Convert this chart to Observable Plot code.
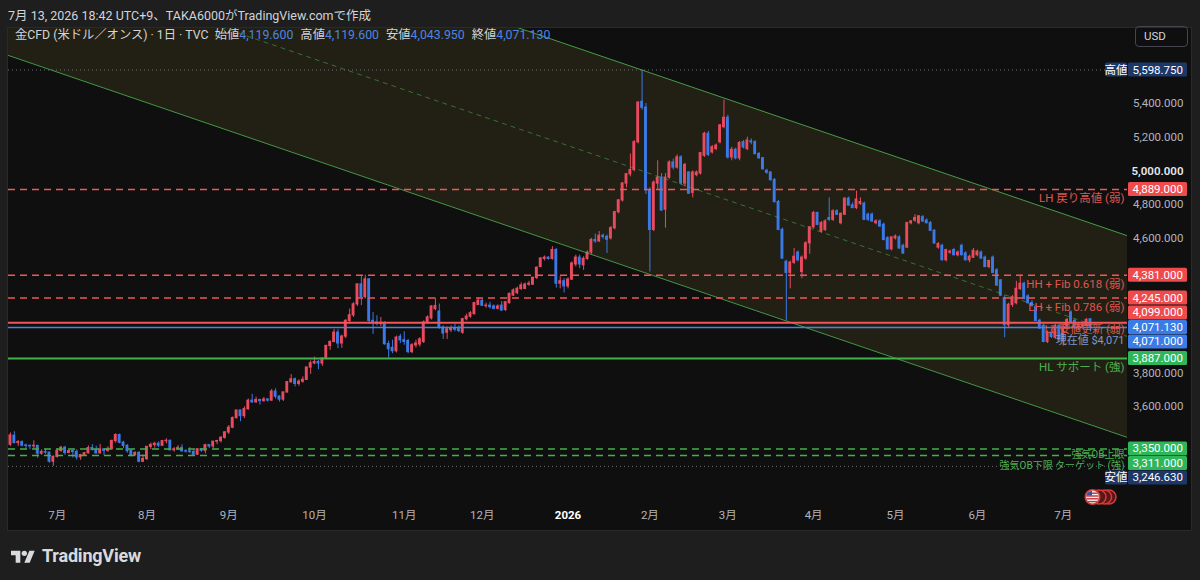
<!DOCTYPE html>
<html><head><meta charset="utf-8">
<script src="https://cdn.jsdelivr.net/npm/d3@7"></script>
<script src="https://cdn.jsdelivr.net/npm/@observablehq/plot@0.6"></script>
<style>
html,body{margin:0;padding:0;background:#1e1e1e;}
#wrap{position:relative;width:1200px;height:580px;overflow:hidden;background:#1e1e1e;font-family:Roboto,"Noto Sans CJK JP",sans-serif;}
#hdr{position:absolute;left:8px;top:5px;font-size:12.5px;color:#d1d4dc;white-space:nowrap;}
#panel{position:absolute;left:8px;top:28px;width:1183px;height:502px;background:#0f0f0f;box-shadow:0 0 0 1px #2a2a2a;}
#legend{position:absolute;left:15px;top:28px;font-size:12.3px;line-height:14px;color:#d1d4dc;white-space:nowrap;}
#legend .v{color:#4c85e6;margin-right:7px;}
#legend .k{color:#d1d4dc;}
#usd{position:absolute;left:1135px;top:26px;width:51px;height:19px;border:1px solid #434651;border-radius:4px;color:#d1d4dc;font-size:11.5px;line-height:19px;}
#usd span{margin-left:8px;}
#logo{position:absolute;left:10px;top:545px;display:flex;align-items:center;color:#d9dadd;font-weight:700;font-size:18px;font-family:Roboto,"Open Sans",sans-serif;letter-spacing:-0.2px;}
#flag{position:absolute;left:1082px;top:486px;}
</style></head>
<body><div id="wrap">
<div id="hdr">7月 13, 2026 18:42 UTC+9、TAKA6000がTradingView.comで作成</div>
<div id="panel"></div>
<div id="legend"></div>
<div id="usd"><span>USD</span></div>
<svg id="flag" width="40" height="22" viewBox="0 0 40 22">
  <defs><clipPath id="fc"><circle cx="10.5" cy="11" r="6.3"/></clipPath></defs>
  <circle cx="27" cy="11" r="7" fill="#5a1717" stroke="#d63a3a" stroke-width="1.5"/>
  <circle cx="22.5" cy="11" r="7" fill="#5a1717" stroke="#d63a3a" stroke-width="1.5"/>
  <circle cx="17" cy="11" r="7" fill="#5a1717" stroke="#d63a3a" stroke-width="1.5"/>
  <circle cx="10.5" cy="11" r="7.2" fill="#f2f2f2" stroke="#d63a3a" stroke-width="1.6"/>
  <g clip-path="url(#fc)">
    <rect x="3" y="6.5" width="15" height="1.4" fill="#c8323a"/>
    <rect x="3" y="9.3" width="15" height="1.4" fill="#c8323a"/>
    <rect x="3" y="12.1" width="15" height="1.4" fill="#c8323a"/>
    <rect x="3" y="14.9" width="15" height="1.4" fill="#c8323a"/>
    <rect x="3" y="3" width="7" height="6.5" fill="#3b4f9a"/>
  </g>
</svg>
<div id="logo"><svg width="26" height="16" viewBox="0 0 36 24" style="margin-right:6px"><path d="M14 22H7V11H0V4h14v18z" fill="#d9dadd"/><circle cx="20" cy="8" r="4" fill="#d9dadd"/><path d="M28 22h-8l7.5-18h8L28 22z" fill="#d9dadd"/></svg>TradingView</div>
</div>
<script>
// ---------- data (daily candles) ----------
const firstDay = "2025-06-13", lastDay = "2026-07-13";
const holidays = ["2025-12-25","2026-01-01","2026-04-03","2026-07-03"];

const opens = [
3375,3428,3385,3390,3370,3368,3366,3368,3322,3332,
3328,3274,3303,3338,3357,3326,3337,3332,3300,3313,
3324,3355,3343,3324,3347,3339,3350,3397,3432,3387,
3368,3337,3314,3326,3274,3290,3362,3373,3380,3369,
3396,3398,3342,3348,3356,3336,3335,3332,3316,3348,
3339,3372,3365,3393,3397,3416,3448,3476,3533,3578,
3545,3586,3636,3627,3640,3634,3643,3637,3690,3660,
3643,3685,3746,3763,3736,3749,3760,3833,3858,3866,
3857,3886,3961,3985,4040,3976,4017,4110,4143,4208,
4326,4251,4356,4110,4100,4092,4098,3972,3950,3930,
4015,3995,3990,3925,3965,3970,3985,4100,4125,4180,
4165,4070,4040,4055,4065,4060,4040,4120,4135,4150,
4205,4228,4198,4200,4195,4182,4200,4175,4215,4260,
4275,4300,4300,4325,4325,4365,4430,4478,4485,4478,
4530,4331,4345,4315,4355,4445,4485,4440,4478,4515,
4590,4582,4615,4608,4600,4660,4755,4825,4925,4980,
5005,5170,5410,5375,4885,4650,4925,4960,4770,4960,
5050,5020,5080,4925,4990,4870,4975,4985,5090,5220,
5110,5130,5170,5260,5315,5080,5125,5075,5170,5130,
5175,5170,5100,5075,5000,4990,4945,
4815,4650,4460,4395,4455,4515,4400,4480,4570,4665,
4750,4640,4650,4720,4710,4760,4690,4740,4835,4795,
4780,4805,4805,4740,4740,4690,4700,4680,4600,4535,
4600,4605,4555,4545,4690,4705,4690,4725,4705,4690,
4645,4545,4555,4470,4515,4530,4500,4555,4510,4470,4485,
4500,4515,4485,4430,4485,4410,4350,4245,4085,4205,
4215,4300,4330,4255,4215,4190,4110,4080,3985,4040,4010,
4080,3995,4075,4160,4110,4070,4075,4080,4119.6];

const highs = [
3445,3452,3400,3398,3378,3372,3398,3370,3345,3350,
3330,3308,3350,3365,3365,3342,3345,3345,3318,3330,
3368,3375,3366,3377,3352,3362,3402,3440,3438,3395,
3375,3345,3333,3334,3315,3363,3385,3390,3392,3400,
3410,3402,3358,3370,3375,3346,3358,3345,3350,3352,
3378,3376,3394,3400,3423,3453,3489,3540,3578,3580,
3600,3646,3674,3658,3645,3655,3648,3703,3707,3665,
3688,3750,3791,3770,3760,3778,3835,3872,3895,3875,
3890,3965,3990,4060,4058,4025,4117,4180,4218,4330,
4380,4381,4360,4160,4140,4130,4105,3990,3995,4020,
4030,4045,4000,3975,3995,4010,4110,4140,4200,4245,
4210,4080,4075,4080,4090,4080,4125,4150,4165,4220,
4245,4240,4215,4220,4205,4205,4225,4225,4275,4300,
4310,4335,4335,4345,4370,4430,4485,4495,4490,4550,
4540,4372,4360,4365,4460,4500,4500,4490,4525,4600,
4625,4640,4625,4620,4670,4760,4830,4930,4985,5100,
5180,5410,5598.75,5400,4900,4940,5060,4985,4985,5060,
5070,5095,5090,5045,4995,5000,5000,5110,5230,5235,
5150,5160,5275,5420,5330,5140,5135,5175,5180,5200,
5190,5180,5110,5080,5010,4995,4955,
4825,4660,4470,4465,4540,4525,4495,4580,4670,4760,
4755,4700,4710,4840,4770,4770,4750,4840,4845,4810,
4880,4840,4815,4750,4750,4710,4710,4690,4610,4610,
4620,4615,4565,4695,4705,4740,4735,4735,4715,4700,
4650,4575,4565,4535,4530,4540,4525,4565,4520,4500,4540,
4530,4525,4495,4470,4495,4420,4355,4260,4215,4260,
4345,4381,4340,4265,4230,4200,4120,4090,4050,4060,4090,
4090,4085,4125,4170,4120,4090,4095,4125,4119.6];

const lows = [
3365,3380,3365,3362,3350,3345,3350,3295,3312,3318,
3265,3246.63,3295,3330,3312,3322,3296,3283,3282,3305,
3320,3340,3320,3320,3310,3330,3340,3385,3380,3352,
3325,3302,3308,3268,3270,3281,3346,3355,3358,3366,
3380,3340,3331,3345,3330,3325,3322,3314,3311,3330,
3321,3352,3352,3375,3385,3408,3436,3470,3528,3512,
3530,3580,3620,3620,3610,3627,3628,3632,3646,3628,
3632,3682,3740,3718,3722,3740,3756,3792,3850,3820,
3840,3885,3935,3980,3945,3947,4005,4090,4130,4195,
4200,4240,4090,4030,4080,4075,3965,3887,3915,3920,
3975,3965,3915,3915,3950,3955,3975,4090,4115,4170,
4060,4000,4000,4040,4045,4040,4030,4110,4125,4145,
4200,4195,4185,4180,4175,4175,4165,4165,4210,4255,
4265,4290,4295,4315,4320,4355,4425,4465,4470,4470,
4305,4300,4275,4300,4350,4430,4420,4410,4470,4505,
4570,4575,4595,4510,4590,4650,4745,4815,4900,4965,
4995,5160,5360,4860,4400,4640,4890,4760,4660,4950,
5005,5010,4915,4905,4860,4840,4965,4975,5080,5085,
5100,5120,5160,5250,5070,5060,5065,5060,5130,5120,
5155,5095,5070,5005,4980,4940,4810,
4645,4475,4110,4300,4445,4460,4360,4470,4505,4655,
4675,4630,4640,4700,4700,4735,4680,4735,4790,4775,
4770,4795,4705,4700,4695,4680,4665,4585,4530,4525,
4590,4535,4505,4540,4680,4695,4680,4695,4685,4640,
4565,4535,4465,4460,4505,4495,4490,4495,4465,4455,4480,
4490,4475,4425,4420,4390,4315,4255,4010,4070,4190,
4205,4290,4235,4210,4190,4105,4060,3980,3975,4005,4000,
3990,3960,4065,4095,4060,4050,4060,4075,4043.95];

const closes = [
3430,3385,3390,3370,3368,3366,3368,3322,3332,3328,
3274,3303,3338,3357,3326,3337,3332,3300,3313,3324,
3355,3343,3324,3347,3339,3350,3397,3432,3387,3368,
3337,3314,3326,3274,3290,3362,3373,3380,3369,3396,
3398,3342,3348,3356,3336,3335,3332,3316,3348,3339,
3372,3365,3393,3397,3416,3448,3476,3533,3578,3545,
3586,3636,3627,3640,3634,3643,3637,3690,3660,3643,
3685,3746,3763,3736,3749,3760,3833,3858,3866,3857,
3886,3961,3985,4040,3976,4017,4110,4143,4208,4326,
4251,4356,4110,4095,4092,4098,3972,3942,3930,4010,
3995,3985,3925,3965,3975,4000,4100,4130,4195,4198,
4070,4035,4060,4065,4058,4050,4120,4135,4155,4215,
4230,4200,4200,4192,4182,4195,4172,4220,4270,4290,
4300,4320,4325,4330,4365,4425,4480,4485,4478,4530,
4331,4345,4315,4355,4450,4485,4445,4478,4515,4590,
4582,4615,4608,4592,4660,4755,4825,4925,4980,5005,
5170,5405,5375,4885,4650,4930,4960,4765,4960,5050,
5020,5080,4925,5035,4865,4990,4990,5105,5220,5095,
5140,5150,5270,5315,5080,5125,5075,5165,5140,5180,
5170,5100,5075,5010,4990,4945,4815,
4650,4480,4395,4455,4490,4470,4485,4570,4665,4750,
4680,4690,4700,4710,4760,4740,4745,4835,4795,4780,
4830,4815,4710,4710,4700,4700,4670,4590,4535,4605,
4610,4540,4510,4690,4700,4720,4730,4700,4690,4645,
4570,4565,4470,4530,4520,4500,4515,4500,4470,4490,4525,
4520,4480,4430,4465,4395,4320,4260,4085,4205,4250,
4300,4330,4240,4215,4200,4110,4065,3985,4040,4015,4080,
4000,4075,4115,4100,4070,4078,4085,4115,4071.13];

// descending channel drawing (bar index, price at each end)
const channelIdx   = [-0.5, 286.5];
const channelUpper = [6882, 4615];
const channelLower = [5685, 3418];

// horizontal levels drawn on the chart
const levelPrices = [4889, 4381, 4245, 4099, 4071, 3887, 3350, 3311];
const levelTexts  = ["LH 戻り高値 (弱)", "HH + Fib 0.618 (弱)", "LH + Fib 0.786 (弱)", "LL 安値更新 (弱)", "現在値 $4,071", "HL サポート (強)", "強気OB上限", "強気OB下限 ターゲット (強)"];
const levelKinds  = ["rdash","rdash","rdash","rsolid","bsolid","gsolid","gdash","gdash"];

// price tags on the right axis
const tagPrices = [5598.75, 4889, 4381, 4245, 4099, 4071.13, 4071, 3887, 3350, 3311, 3246.63];
const tagKinds  = ["hl","r","r","r","r","b","b","g","g","g","hl"];
const tagPrefix = ["高値","","","","","","","","","","安値"];
const currentTag = 5;

const yTickValues = [3200,3400,3600,3800,4000,4200,4400,4600,4800,5000,5200,5400,5600];

// ---------- build ----------
const fmtDay = d3.utcFormat("%Y-%m-%d");
const days = d3.utcDay.range(new Date(firstDay+"T00:00Z"), d3.utcDay.offset(new Date(lastDay+"T00:00Z"), 1))
  .filter(d => d.getUTCDay() % 6 !== 0 && !holidays.includes(fmtDay(d)));
const n = Math.min(days.length, opens.length, highs.length, lows.length, closes.length);
const bars = d3.range(n).map(i => ({i, date: days[i], o: opens[i], h: highs[i], l: lows[i], c: closes[i]}));

const months = [];
for (let i = 1; i < n; i++) {
  const m = days[i].getUTCMonth();
  if (m !== days[i-1].getUTCMonth()) months.push({i, label: m === 0 ? String(days[i].getUTCFullYear()) : (m+1)+"月", bold: m === 0});
}

const channel = channelIdx.map((x,k) => ({x, u: channelUpper[k], l: channelLower[k], m: (channelUpper[k]+channelLower[k])/2}));
const levels = levelPrices.map((p,k) => ({p, text: levelTexts[k], kind: levelKinds[k], k}));

const RED = "#ea4a5e", BLUE = "#3b79e6";
const LVL = {
  rdash:  {stroke:"#f0565a", w:1.5, dash:"7,5", txt:"#e0564f"},
  rsolid: {stroke:"#f0565a", w:2,   dash:null,  txt:"#e0564f"},
  bsolid: {stroke:"#4a82e8", w:1.6, dash:null,  txt:"#7f97cf"},
  gsolid: {stroke:"#43b04a", w:2,   dash:null,  txt:"#4caf50"},
  gdash:  {stroke:"#43b04a", w:1.5, dash:"7,5", txt:"#4caf50"}
};
// vertical offset of each level's caption below its line (close pairs nudged apart)
const textDy = {3: 6.5, 4: 13, 6: 5.5, 7: 10.5};
const textSize = {3: 11, 4: 11, 6: 10, 7: 10};
const TAGC = {r:"#ee4b4d", b:"#3a7be6", g:"#2fb65a", hl:"#1d3868"};

const W = 1183, H = 502, MR = 64, MB = 24;
const YDOM = [3008.3, 5845.1];
const up = d => d.c >= d.o;
const fmt3 = d3.format(",.3f");
const FONT = 'Roboto, "Noto Sans CJK JP", sans-serif';

// the tags are drawn over the axis: leave out tick labels that a tag covers
const yPix = v => (H - MB) * (YDOM[1] - v) / (YDOM[1] - YDOM[0]);
const tagPixApprox = tagPrices.map(yPix);
const visibleTicks = yTickValues.filter(v => tagPixApprox.every(t => Math.abs(yPix(v) - t) > 9.5));

const levelMarks = Object.keys(LVL).map(k => Plot.ruleY(levels.filter(d => d.kind === k), {
  y: "p", stroke: LVL[k].stroke, strokeWidth: LVL[k].w, strokeDasharray: LVL[k].dash || undefined
}));
const levelTextMarks = levels.map(d => Plot.text([d], {
  y: "p", text: "text", frameAnchor: "right", dx: -3, dy: textDy[d.k] ?? 9, textAnchor: "end",
  fill: LVL[d.kind].txt, fontSize: textSize[d.k] ?? 11.5, fontFamily: FONT
}));

const plot = Plot.plot({
  width: W, height: H,
  marginLeft: 0, marginRight: MR, marginTop: 0, marginBottom: MB,
  style: {background: "#0f0f0f", color: "#b2b5be", fontFamily: FONT, overflow: "visible"},
  x: {type: "linear", domain: [-0.5, 286.5], axis: null},
  y: {domain: YDOM, axis: null},
  color: {type: "identity"},
  marks: [
    Plot.areaY(channel, {x: "x", y1: "l", y2: "u", fill: "#e8d44d", fillOpacity: 0.09, clip: true}),
    Plot.ruleY([tagPrices[0], tagPrices[tagPrices.length-1]], {stroke: "#6b6e78", strokeDasharray: "1,3", strokeWidth: 1}),
    Plot.ruleX(bars, {x: "i", y1: d => Math.min(d.l, d.o, d.c), y2: d => Math.max(d.h, d.o, d.c), stroke: d => up(d) ? RED : BLUE, strokeWidth: 1}),
    Plot.rect(bars, {x1: d => d.i - 0.37, x2: d => d.i + 0.37, y1: d => Math.min(d.o, d.c), y2: d => Math.max(d.o, d.c),
      fill: d => up(d) ? RED : BLUE, insetTop: -0.6, insetBottom: -0.6}),
    Plot.line(channel, {x: "x", y: "u", stroke: "#4caf50", strokeWidth: 1, strokeOpacity: 0.85, clip: true}),
    Plot.line(channel, {x: "x", y: "l", stroke: "#4caf50", strokeWidth: 1, strokeOpacity: 0.85, clip: true}),
    Plot.line(channel, {x: "x", y: "m", stroke: "#4caf50", strokeWidth: 1, strokeOpacity: 0.55, strokeDasharray: "4,5", clip: true}),
    ...levelMarks,
    ...levelTextMarks,
    Plot.text(visibleTicks.filter(v => v !== 5000), {y: d => d, text: d => fmt3(d), frameAnchor: "right", dx: 56, textAnchor: "end", fill: "#b2b5be", fontSize: 11.5}),
    Plot.text(visibleTicks.filter(v => v === 5000), {y: d => d, text: d => fmt3(d), frameAnchor: "right", dx: 56, textAnchor: "end", fill: "#e6e8ee", fontSize: 11.5, fontWeight: 600}),
    Plot.text(months.filter(d => !d.bold), {x: "i", text: "label", frameAnchor: "bottom", dy: 12, fill: "#b2b5be", fontSize: 11.5}),
    Plot.text(months.filter(d => d.bold), {x: "i", text: "label", frameAnchor: "bottom", dy: 12, fill: "#ffffff", fontSize: 11.5, fontWeight: 700})
  ]
});
document.getElementById("panel").appendChild(plot);

// price tags placed through the plot's own y scale, pushed apart like TradingView
const ys = plot.scale("y");
const TH = 14.5;
const tags = tagPrices.map((p,k) => ({p, k, y0: ys.apply(p), kind: tagKinds[k], pre: tagPrefix[k]}));
tags[currentTag].y = tags[currentTag].y0;
for (let k = currentTag - 1; k >= 0; k--) tags[k].y = Math.min(tags[k].y0, tags[k+1].y - TH);
for (let k = currentTag + 1; k < tags.length; k++) tags[k].y = Math.max(tags[k].y0, tags[k-1].y + TH);

const svg = d3.select(plot);
const g = svg.append("g").attr("font-family", FONT).attr("font-size", 11.5);
const bx = W - MR + 1, bw = 59;
for (const t of tags) {
  g.append("rect").attr("x", bx).attr("y", t.y - 7).attr("width", bw).attr("height", 14).attr("rx", 1.5).attr("fill", TAGC[t.kind]);
  g.append("text").attr("x", bx + bw - 4).attr("y", t.y).attr("dy", "0.35em").attr("text-anchor", "end").attr("fill", "#ffffff").text(fmt3(t.p));
  if (t.pre) {
    g.append("rect").attr("x", bx - 23).attr("y", t.y - 7).attr("width", 22).attr("height", 14).attr("rx", 1.5).attr("fill", TAGC[t.kind]);
    g.append("text").attr("x", bx - 12).attr("y", t.y).attr("dy", "0.35em").attr("text-anchor", "middle").attr("fill", "#ffffff").text(t.pre);
  }
}

// legend from the last candle
const last = bars[n-1];
document.getElementById("legend").innerHTML =
  '<span class="k">金CFD (米ドル／オンス) · 1日 · TVC</span>&nbsp;&nbsp;' +
  '<span class="k">始値</span><span class="v">' + fmt3(last.o) + '</span>' +
  '<span class="k">高値</span><span class="v">' + fmt3(last.h) + '</span>' +
  '<span class="k">安値</span><span class="v">' + fmt3(last.l) + '</span>' +
  '<span class="k">終値</span><span class="v">' + fmt3(last.c) + '</span>';
</script>
</body></html>
